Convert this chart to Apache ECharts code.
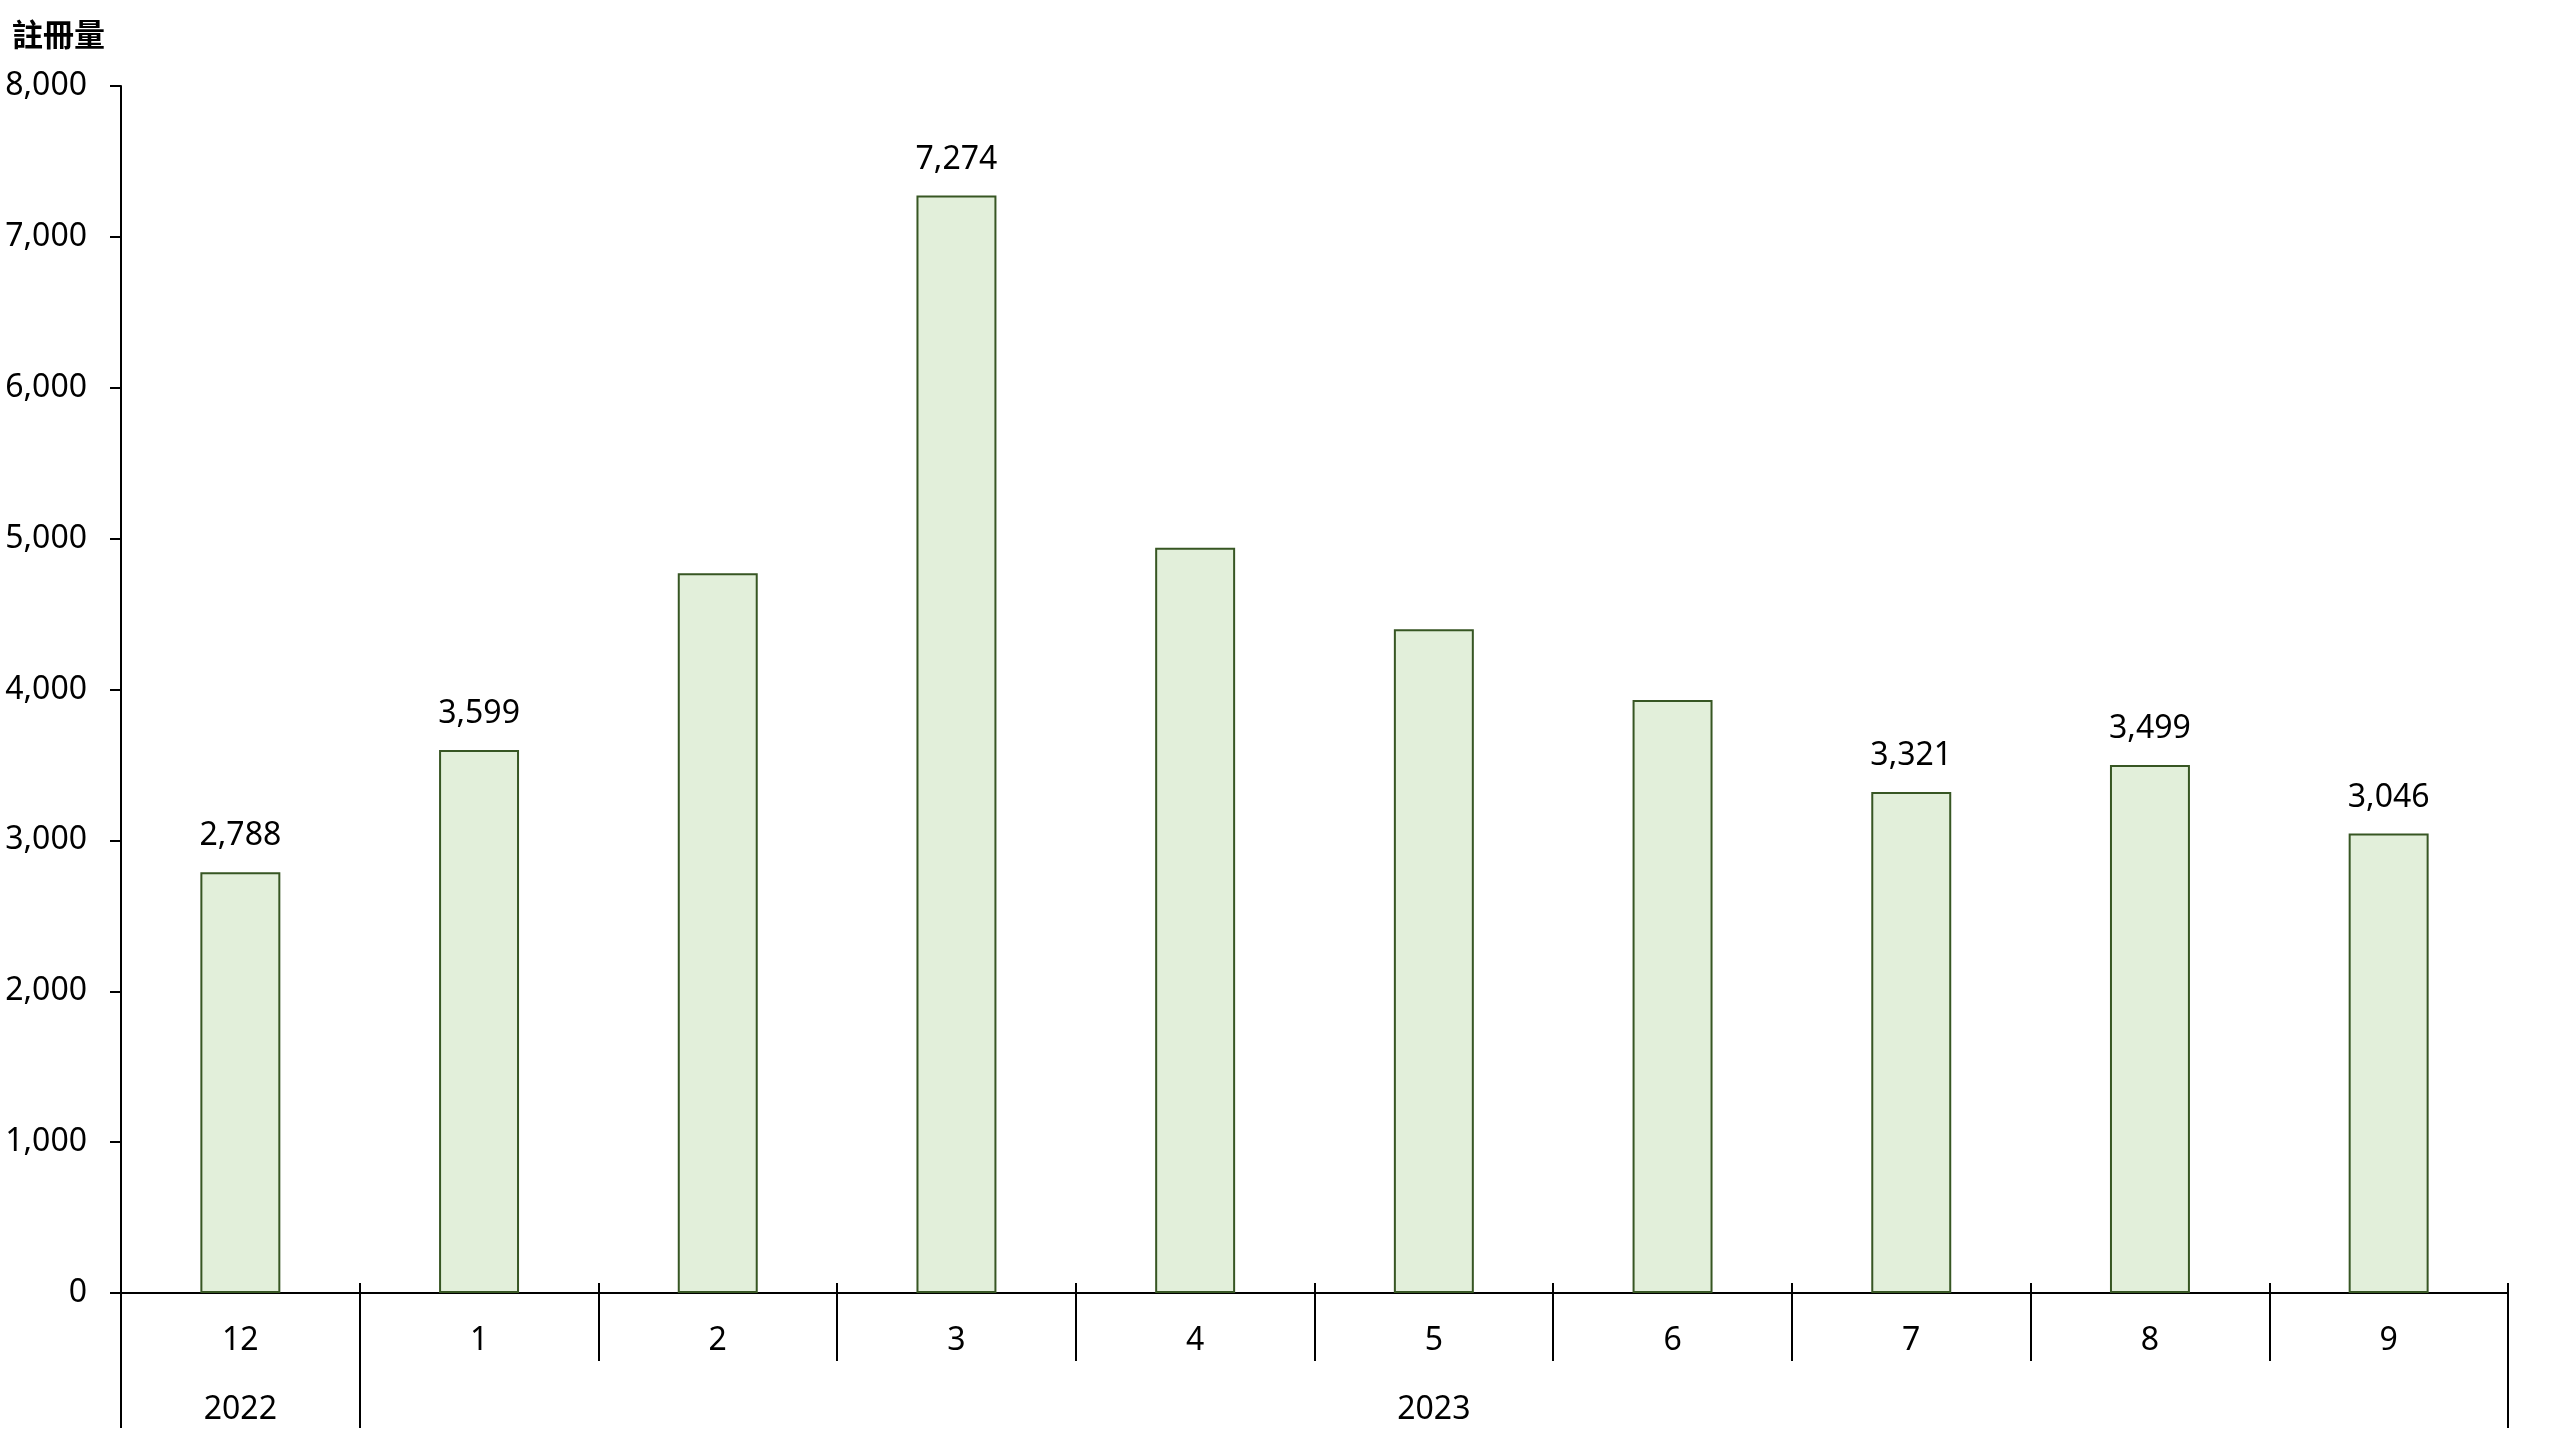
<!DOCTYPE html>
<html>
<head>
<meta charset="utf-8">
<script src="https://cdn.jsdelivr.net/npm/echarts@6/dist/echarts.min.js"></script>
<style>html,body{margin:0;padding:0;background:#fff}#c{width:2560px;height:1440px}</style>
</head>
<body>
<div id="c"></div>
<script>
const months = ['12','1','2','3','4','5','6','7','8','9'];
const years = ['2022','','','','','2023','','','',''];
const values = [2788, 3599, 4770, 7274, 4940, 4400, 3930, 3321, 3499, 3046];
const labelShown = [true, true, false, true, false, false, false, true, true, true];
const yTicks = { min: 0, max: 8000, interval: 1000 };
const axisName = '註冊量';

const FONT = '"Noto Sans", "Noto Sans CJK TC", sans-serif';
const chart = echarts.init(document.getElementById('c'));
chart.setOption({
  animation: false,
  backgroundColor: '#ffffff',
  title: {
    text: axisName, left: 7, top: 14,
    textStyle: { fontFamily: '"Noto Sans CJK TC", sans-serif', fontSize: 31, fontWeight: 'bold', color: '#000' }
  },
  grid: { left: 121, right: 52, top: 86, bottom: 147, containLabel: false },
  xAxis: [
    {
      type: 'category', data: months, position: 'bottom',
      axisLine: { show: true, lineStyle: { color: '#000', width: 2 } },
      axisTick: { show: true, length: 68, lineStyle: { color: '#000', width: 2 } },
      axisLabel: { margin: 32, fontSize: 32, fontFamily: FONT, color: '#000' }
    },
    {
      type: 'category', data: years, position: 'bottom',
      axisLine: { show: false },
      axisTick: { show: true, length: 135, interval: function (i) { return i === 0 || i === 1; }, lineStyle: { color: '#000', width: 2 } },
      axisLabel: { margin: 101, interval: 0, fontSize: 32, fontFamily: FONT, color: '#000' }
    },
    {
      type: 'category', data: months, position: 'bottom',
      axisLine: { show: false },
      axisTick: { show: true, inside: true, length: 10, lineStyle: { color: '#000', width: 2 } },
      axisLabel: { show: false }
    }
  ],
  yAxis: {
    type: 'value', min: yTicks.min, max: yTicks.max, interval: yTicks.interval,
    axisLine: { show: true, lineStyle: { color: '#000', width: 2 } },
    axisTick: { show: true, length: 11, lineStyle: { color: '#000', width: 2 } },
    splitLine: { show: false },
    axisLabel: {
      margin: 34, fontSize: 32, fontFamily: FONT, color: '#000',
      formatter: v => v.toLocaleString('en-US')
    }
  },
  series: [{
    type: 'bar', xAxisIndex: 0, barWidth: '33.5%',
    itemStyle: { color: '#e2efda', borderColor: '#375623', borderWidth: 2 },
    label: {
      show: true, position: 'top', distance: 20, fontSize: 32, fontFamily: FONT, color: '#000',
      formatter: p => labelShown[p.dataIndex] ? p.value.toLocaleString('en-US') : ''
    },
    data: values
  }]
});
</script>
</body>
</html>
